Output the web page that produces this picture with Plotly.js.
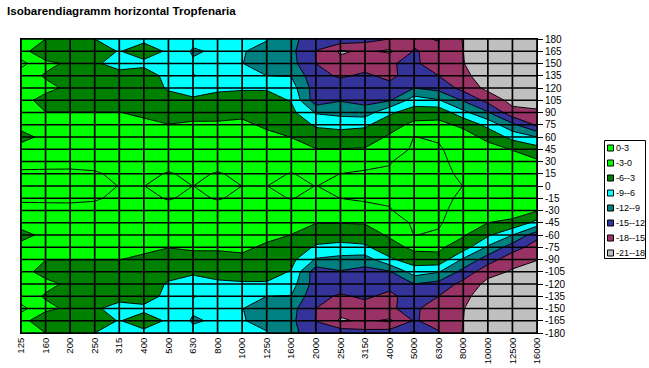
<!DOCTYPE html>
<html><head><meta charset="utf-8">
<script src="https://cdn.plot.ly/plotly-3.0.1.min.js"></script>
<style>html,body{margin:0;padding:0;background:#fff}#chart{width:649px;height:368px}</style>
</head><body><div id="chart"></div>
<script>
const chartTitle = 'Isobarendiagramm horizontal Tropfenaria';
const freqLabels = ['125','160','200','250','315','400','500','630','800','1000','1250','1600','2000','2500','3150','4000','5000','6300','8000','10000','12500','16000'];
const angles = [-180,-165,-150,-135,-120,-105,-90,-75,-60,-45,-30,-15,0,15,30,45,60,75,90,105,120,135,150,165,180];
const bandLabels = ['0-3','-3-0','-6--3','-9--6','-12--9','-15--12','-18--15','-21--18'];
const bandColors = ['#00FF00','#00FF00','#008000','#00FFFF','#008080','#333399','#993366','#C0C0C0'];
const levelStart = -18, levelEnd = 0, levelStep = 3;

// level (dB) per angle row, one value per frequency
const levelRows = [
/* -180 */ [-1.5,-3.0,-4.5,-6.0,-7.0,-6.5,-6.0,-8.0,-8.0,-8.3,-8.8,-11.3,-13.5,-13.0,-14.0,-13.5,-11.5,-14.8,-18.2,-20,-20,-20],
/* -165 */ [-1.8,-5.3,-4.5,-5.2,-6.1,-5.0,-6.3,-9.4,-8.5,-8.8,-10.0,-11.3,-15.1,-18.4,-17.5,-18.5,-14.8,-15.8,-18.0,-20,-20,-20],
/* -150 */ [0.8,-2.2,-3.6,-5.4,-7.6,-6.5,-7.0,-8.5,-8.5,-8.95,-10.0,-11.0,-15.0,-17.0,-16.0,-15.2,-14.5,-16.5,-17.9,-20,-20,-20],
/* -135 */ [-1.5,-3.3,-4.0,-4.5,-4.5,-5.0,-6.6,-9.1,-8.3,-8.95,-9.0,-9.1,-14.3,-15.3,-14.6,-15.6,-13.8,-15.0,-17.3,-19.5,-20,-20],
/* -120 */ [-1.5,-2.2,-3.6,-4.2,-4.2,-4.5,-6.3,-6.8,-6.5,-6.3,-6.3,-7.7,-13.5,-13.8,-14.0,-14.2,-12.0,-13.0,-16.0,-18.8,-20,-20],
/* -105 */ [-2.0,-4.0,-4.2,-4.2,-4.2,-4.5,-5.0,-5.7,-5.0,-4.8,-4.8,-6.2,-13.8,-12.2,-13.0,-12.3,-7.5,-8.8,-13.0,-17.0,-18.3,-19.2],
/*  -90 */ [-1.6,-2.95,-2.95,-2.95,-2.95,-3.5,-4.0,-4.0,-4.0,-3.8,-4.5,-5.2,-9.3,-10.0,-10.5,-6.5,-4.5,-3.8,-9.5,-13.5,-17.0,-17.9],
/*  -75 */ [-2.0,-2.0,-2.1,-2.2,-2.2,-2.4,-2.95,-2.6,-2.6,-2.3,-3.6,-4.0,-6.4,-6.8,-6.5,-4.2,-2.3,-2.5,-4.5,-9.5,-13.5,-16.5],
/*  -60 */ [-4.0,-2.2,-2.0,-2.0,-2.0,-2.1,-2.0,-2.1,-2.0,-2.0,-2.1,-3.05,-4.6,-4.8,-4.5,-2.6,0.05,-0.3,-2.7,-5.5,-9.0,-14.0],
/*  -45 */ [-1.8,-1.6,-1.7,-1.8,-1.8,-1.8,-1.5,-1.6,-1.5,-1.6,-1.6,-2.2,-2.9,-2.9,-2.8,-1.5,0.4,0.3,-1.6,-3.0,-3.5,-7.0],
/*  -30 */ [-0.6,-0.7,-0.8,-0.9,-1.2,-1.2,-0.8,-1.0,-0.8,-1.0,-1.1,-1.0,-1.8,-1.8,-0.5,-0.1,0.7,0.5,-0.9,-1.7,-2.0,-2.8],
/*  -15 */ [0.3,0.4,0.5,0.3,-0.6,-0.5,0.15,-0.4,0.15,-0.4,-0.5,0.1,-0.6,0.02,0.2,0.2,0.9,0.6,-0.4,-1.0,-1.3,-1.4],
/*    0 */ [0.8,0.9,1.0,0.6,-0.05,-0.02,0.5,-0.01,0.5,-0.01,-0.01,0.3,-0.02,0.3,0.3,0.5,1.0,0.6,-0.02,-0.6,-0.8,-0.9],
/*   15 */ [0.3,0.4,0.5,0.3,-0.6,-0.5,0.15,-0.4,0.15,-0.4,-0.5,0.1,-0.6,0.02,0.2,0.2,0.9,0.6,-0.4,-0.9,-1.2,-1.4],
/*   30 */ [-0.6,-0.7,-0.8,-0.9,-1.2,-1.2,-0.8,-1.0,-0.8,-1.0,-1.1,-1.0,-1.8,-1.8,-0.5,-0.1,0.7,0.5,-0.8,-1.4,-2.0,-2.6],
/*   45 */ [-1.8,-1.6,-1.7,-1.8,-1.8,-1.8,-1.5,-1.6,-1.5,-1.6,-1.6,-2.2,-2.9,-2.9,-2.8,-1.5,0.4,0.3,-1.3,-2.3,-3.1,-4.7],
/*   60 */ [-4.0,-2.2,-2.0,-2.0,-2.0,-2.1,-2.0,-2.1,-2.0,-2.0,-2.1,-3.05,-4.6,-4.8,-4.5,-2.6,0.05,-0.3,-2.2,-3.5,-7.0,-9.0],
/*   75 */ [-2.0,-2.0,-2.1,-2.2,-2.2,-2.4,-2.95,-2.6,-2.6,-2.3,-3.6,-4.0,-6.4,-6.8,-6.5,-4.2,-2.3,-2.5,-3.4,-7.0,-11.3,-15.5],
/*   90 */ [-1.6,-2.95,-2.95,-2.95,-2.95,-3.5,-4.0,-4.0,-4.0,-3.8,-4.5,-5.2,-9.3,-10.0,-10.5,-6.5,-4.5,-3.8,-8.2,-11.7,-17.0,-17.6],
/*  105 */ [-2.0,-4.0,-4.2,-4.2,-4.2,-4.5,-5.0,-5.7,-5.0,-4.8,-4.8,-6.2,-13.8,-12.2,-13.0,-12.3,-7.5,-8.8,-12.3,-16.0,-19.0,-19.0],
/*  120 */ [-1.5,-2.2,-3.6,-4.2,-4.2,-4.5,-6.3,-6.8,-6.5,-6.3,-6.3,-7.7,-13.5,-13.8,-14.0,-14.2,-12.0,-13.0,-16.0,-18.8,-20,-20],
/*  135 */ [-1.5,-3.3,-4.0,-4.5,-4.5,-5.0,-6.6,-9.1,-8.3,-8.95,-9.0,-9.1,-14.3,-15.3,-14.6,-15.6,-13.8,-15.0,-17.3,-19.5,-20,-20],
/*  150 */ [0.8,-2.2,-3.6,-5.4,-7.6,-6.5,-7.0,-8.5,-8.5,-8.95,-10.0,-11.0,-15.0,-17.0,-16.0,-15.2,-14.5,-16.5,-17.9,-20,-20,-20],
/*  165 */ [-1.8,-5.3,-4.5,-5.2,-6.1,-5.0,-6.3,-9.4,-8.5,-8.8,-10.0,-11.3,-15.1,-18.4,-17.5,-18.5,-14.8,-15.8,-18.0,-20,-20,-20],
/*  180 */ [-1.5,-3.0,-4.5,-6.0,-7.0,-6.5,-6.0,-8.0,-8.0,-8.3,-8.8,-11.3,-13.5,-13.0,-14.0,-15.0,-15.5,-14.8,-18.2,-20,-20,-20]
];

// ---- layout geometry (pixels) ----
const W = 649, H = 368;
const PL = 21, PR = 537, PT = 39, PB = 333;
const xp = px => (px - PL) / (PR - PL);
const yp = py => (PB - py) / (PB - PT);
const FONT = '"Liberation Sans", Arial, sans-serif';

const xIdx = freqLabels.map((_, i) => i);

// colorscale: band fill colours from lowest to highest band
const bandsLowToHigh = bandColors.slice().reverse();
const nb = bandsLowToHigh.length;
const colorscale = bandsLowToHigh.map((c, i) => [i / (nb - 1), c]);

const trace = {
  type: 'contour',
  x: xIdx, y: angles, z: levelRows,
  autocontour: false,
  contours: {start: levelStart, end: levelEnd, size: levelStep, coloring: 'fill', showlines: true},
  line: {color: '#000', width: 1, smoothing: 0},
  colorscale: colorscale,
  showscale: false,
  hoverinfo: 'skip'
};

const shapes = [];
// grid lines drawn above the fills
xIdx.forEach(i => shapes.push({type: 'line', layer: 'above', xref: 'x', yref: 'y',
  x0: i, x1: i, y0: angles[0], y1: angles[angles.length - 1], line: {color: '#000', width: 1.7}}));
angles.forEach(a => shapes.push({type: 'line', layer: 'above', xref: 'x', yref: 'y',
  x0: 0, x1: xIdx[xIdx.length - 1], y0: a, y1: a, line: {color: '#000', width: 1.7}}));

// legend box
shapes.push({type: 'rect', xref: 'paper', yref: 'paper', x0: xp(604.5), x1: xp(645.5), y0: yp(258.5), y1: yp(140.5),
  line: {color: '#000', width: 1}, fillcolor: '#fff'});
const annotations = [];
bandLabels.forEach((lab, k) => {
  const cy = 148 + 15 * k;
  shapes.push({type: 'rect', xref: 'paper', yref: 'paper', x0: xp(607.5), x1: xp(613.5), y0: yp(cy + 3), y1: yp(cy - 3),
    line: {color: '#000', width: 1}, fillcolor: bandColors[k]});
  annotations.push({xref: 'paper', yref: 'paper', x: xp(613.5), y: yp(cy), xanchor: 'left', yanchor: 'middle',
    text: lab, showarrow: false, font: {family: FONT, size: 9, color: '#000'}});
});

const layout = {
  width: W, height: H,
  margin: {l: PL, r: W - PR, t: PT, b: H - PB, pad: 0},
  paper_bgcolor: '#fff', plot_bgcolor: '#fff',
  showlegend: false,
  title: {text: '<b>' + chartTitle + '</b>', x: 7 / W, xanchor: 'left', xref: 'container',
    y: 1 - 10.5 / H, yanchor: 'middle', yref: 'container', font: {family: FONT, size: 11.6, color: '#000'}},
  xaxis: {type: 'linear', range: [0, xIdx.length - 1], tickvals: xIdx, ticktext: freqLabels,
    tickangle: -90, ticks: '', ticklen: 0,
    showgrid: false, zeroline: false, showline: true, linecolor: '#000', linewidth: 1, mirror: true,
    tickfont: {family: FONT, size: 9.5, color: '#000'}, fixedrange: true},
  yaxis: {range: [angles[0], angles[angles.length - 1]], tickvals: angles, ticktext: angles.map(String),
    side: 'right', ticks: 'outside', ticklen: 5, tickwidth: 1, tickcolor: '#000',
    showgrid: false, zeroline: false, showline: true, linecolor: '#000', linewidth: 1, mirror: true,
    tickfont: {family: FONT, size: 10, color: '#000'}, fixedrange: true},
  shapes: shapes,
  annotations: annotations
};

Plotly.newPlot('chart', [trace], layout, {staticPlot: true, displayModeBar: false});
</script></body></html>
